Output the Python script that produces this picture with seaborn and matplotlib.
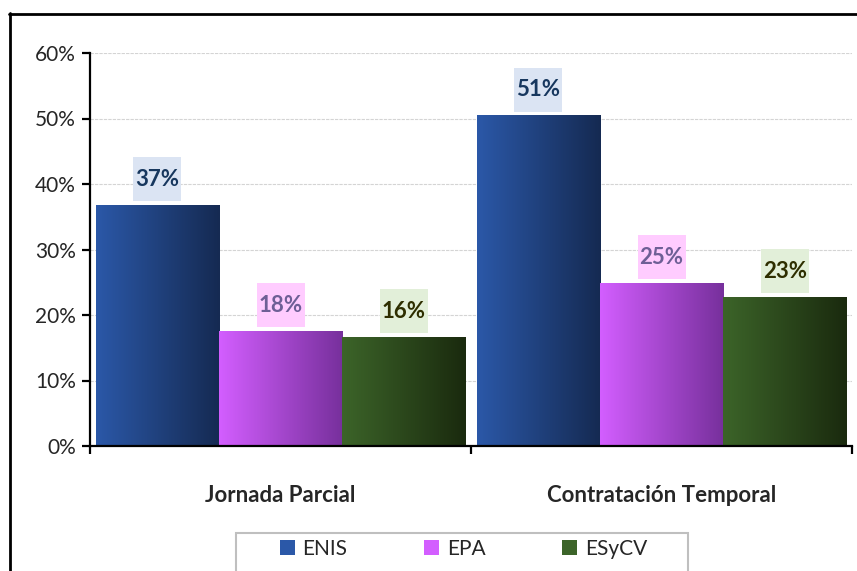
import numpy as np
import pandas as pd
import matplotlib
matplotlib.use("Agg")
import matplotlib.pyplot as plt
import seaborn as sns
from matplotlib.colors import LinearSegmentedColormap
from matplotlib.patches import Rectangle, Patch
from matplotlib.lines import Line2D

# ---- data ----
categories = ["Jornada Parcial", "Contratación Temporal"]
series = ["ENIS", "EPA", "ESyCV"]
enis = [36.8, 50.5]
epa = [17.6, 24.9]
esycv = [16.7, 22.8]
label_enis = ["37%", "51%"]
label_epa = ["18%", "25%"]
label_esycv = ["16%", "23%"]
yticks = [0, 10, 20, 30, 40, 50, 60]
ytick_labels = ["0%", "10%", "20%", "30%", "40%", "50%", "60%"]

# ---- style ----
grad = {
    "ENIS": ("#2b58a8", "#152a52"),
    "EPA": ("#d35eff", "#77309c"),
    "ESyCV": ("#3c6429", "#1a2a0e"),
}
box_face = {"ENIS": "#dbe4f3", "EPA": "#ffccff", "ESyCV": "#e2efd9"}
box_text = {"ENIS": "#17375e", "EPA": "#6e5f96", "ESyCV": "#2e2e00"}

df = pd.DataFrame({
    "cat": categories * 3,
    "serie": [s for s in series for _ in categories],
    "val": enis + epa + esycv,
})
labels_map = {"ENIS": label_enis, "EPA": label_epa, "ESyCV": label_esycv}

sns.set_style("white")
plt.rcParams["font.family"] = ["Lato", "DejaVu Sans"]

W, H = 857, 571
fig = plt.figure(figsize=(W / 100, H / 100), dpi=100)
ax = fig.add_axes([90 / W, 1 - 446 / H, (852 - 90) / W, (446 - 53) / H])

pal = {s: grad[s][0] for s in series}
sns.barplot(data=df, x="cat", y="val", hue="serie", hue_order=series,
            order=categories, palette=pal, width=0.97, gap=0,
            ax=ax, legend=False, saturation=1, edgecolor="none")

ax.set_xlim(-0.5, 1.5)
ax.set_ylim(0, 60)

# gradient fill for bars
patches = [p for p in ax.patches if p.get_height() > 0]
patches_sorted = sorted(patches, key=lambda p: p.get_x())
order_series = []
for ci in range(len(categories)):
    for s in series:
        order_series.append((ci, s))
px_x = (852 - 90) / 2.0  # pixels per x data unit
px_y = (446 - 53) / 60.0  # pixels per y data unit
for p, (ci, s) in zip(patches_sorted, order_series):
    x0 = p.get_x(); w = p.get_width(); h = p.get_height()
    cmap = LinearSegmentedColormap.from_list(s, [grad[s][0], grad[s][1]])
    g = np.linspace(0, 1, 256).reshape(1, -1)
    im = ax.imshow(g, cmap=cmap, extent=[x0, x0 + w, 0, h], aspect="auto",
                   origin="lower", zorder=2, interpolation="bilinear")
    im.set_clip_path(p)
    p.set_facecolor("none")
    # label box
    bw = 48 / px_x
    bh = 44 / px_y
    gap = 3.5 / px_y
    cx = x0 + w / 2
    ax.add_patch(Rectangle((cx - bw / 2, h + gap), bw, bh, facecolor=box_face[s],
                           edgecolor="none", zorder=3, clip_on=False))
    ax.text(cx, h + gap + bh / 2, labels_map[s][ci], ha="center", va="center",
            fontsize=16, fontweight="bold", color=box_text[s], zorder=4)

ax.set_xlim(-0.5, 1.5)
ax.set_ylim(0, 60)

# axes styling
ax.set_yticks(yticks)
ax.set_yticklabels(ytick_labels, fontsize=15)
ax.yaxis.grid(True, color="#d4d4d4", linestyle=(0, (3, 1)), linewidth=0.8)
ax.set_axisbelow(True)
for sp in ["top", "right"]:
    ax.spines[sp].set_visible(False)
for sp in ["left", "bottom"]:
    ax.spines[sp].set_color("black")
    ax.spines[sp].set_linewidth(1.6)
    ax.spines[sp].set_zorder(5)
ax.tick_params(axis="y", which="major", direction="out", length=6, width=1.6,
               color="black", pad=4, left=True)
ax.set_xticks(range(len(categories)))
ax.set_xticklabels(categories, fontsize=16, fontweight="bold")
ax.tick_params(axis="x", which="major", length=0, pad=28)
ax.set_xticks([-0.5, 0.5, 1.5], minor=True)
ax.tick_params(axis="x", which="minor", direction="out", length=6, width=1.6,
               color="black", bottom=True)
ax.set_xlabel("")
ax.set_ylabel("")

# outer frame
fig.add_artist(Line2D([9 / W, 1.0], [1 - 13.5 / H, 1 - 13.5 / H], transform=fig.transFigure,
                      color="black", linewidth=2))
fig.add_artist(Line2D([9.5 / W, 9.5 / W], [1 - 13 / H, 0], transform=fig.transFigure,
                      color="black", linewidth=2))

# legend frame (extends below figure edge like the reference)
fig.add_artist(Rectangle((236 / W, -10 / H), (688 - 236) / W, (571 + 10 - 533) / H,
                         transform=fig.transFigure, facecolor="white",
                         edgecolor="#bfbfbf", linewidth=1.5))
handles = [Patch(facecolor=grad[s][0], edgecolor="none") for s in series]
leg = fig.legend(handles, series, ncol=3, loc="center left",
                 bbox_to_anchor=(280 / W, 1 - 549 / H), frameon=False,
                 fontsize=15, handlelength=0.72, handleheight=0.72,
                 handletextpad=0.35, columnspacing=3.7, borderpad=0,
                 borderaxespad=0)

fig.savefig("out.png", dpi=100)
